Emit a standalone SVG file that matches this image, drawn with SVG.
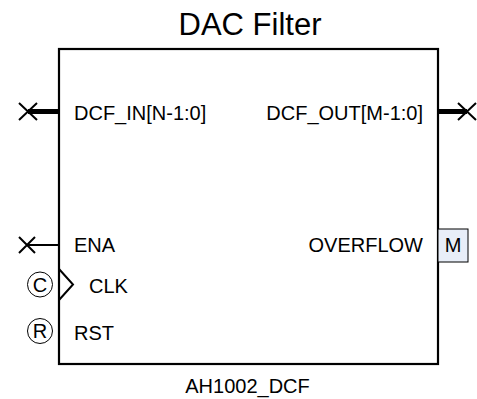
<svg xmlns="http://www.w3.org/2000/svg" width="477" height="399" viewBox="0 0 477 399">
<style>
text{font-family:"Liberation Sans",Arial,sans-serif;fill:#000}
.lbl{font-size:20px}
.thin{stroke:#000;stroke-width:2;fill:none}
.bus{stroke:#000;stroke-width:5;fill:none}
.circ{stroke:#000;stroke-width:1;fill:#fff}
</style>
<rect width="477" height="399" fill="#fff"/>
<g id="block">
<rect x="59" y="49" width="379" height="315" fill="#fff" stroke="#000" stroke-width="2.2"/>
<text x="250" y="35" font-size="31" text-anchor="middle">DAC Filter</text>
<text class="lbl" x="247.5" y="393" text-anchor="middle">AH1002_DCF</text>
</g>
<g id="connectors">
<line class="bus" x1="28" y1="111.5" x2="59" y2="111.5"/>
<path class="thin" d="M19 103 L37 120 M19 120 L37 103"/>
<line class="bus" x1="438" y1="111.5" x2="467" y2="111.5"/>
<path class="thin" d="M458 103 L476 120 M458 120 L476 103"/>
<line class="thin" x1="27" y1="245" x2="59" y2="245"/>
<path class="thin" d="M19 237 L35 253 M19 253 L35 237"/>
<path class="thin" d="M59 269 L73 284.5 L59 300"/>
</g>
<g id="port-in">
<text class="lbl" x="74" y="120">DCF_IN[N-1:0]</text>
</g>
<g id="port-out">
<text class="lbl" x="423" y="120" text-anchor="end">DCF_OUT[M-1:0]</text>
</g>
<g id="port-ena">
<text class="lbl" x="74" y="252">ENA</text>
</g>
<g id="port-clk">
<circle class="circ" cx="40" cy="284.5" r="12.5"/>
<text class="lbl" x="40" y="291.5" text-anchor="middle">C</text>
<text class="lbl" x="89" y="293">CLK</text>
</g>
<g id="port-rst">
<circle class="circ" cx="40" cy="331" r="12.5"/>
<text class="lbl" x="40" y="338" text-anchor="middle">R</text>
<text class="lbl" x="74" y="340">RST</text>
</g>
<g id="port-overflow">
<text class="lbl" x="423" y="252" text-anchor="end">OVERFLOW</text>
<rect x="438" y="229" width="30" height="33" fill="#e8eef8" stroke="#000" stroke-width="1"/>
<text class="lbl" x="453" y="252" text-anchor="middle">M</text>
</g>
</svg>
